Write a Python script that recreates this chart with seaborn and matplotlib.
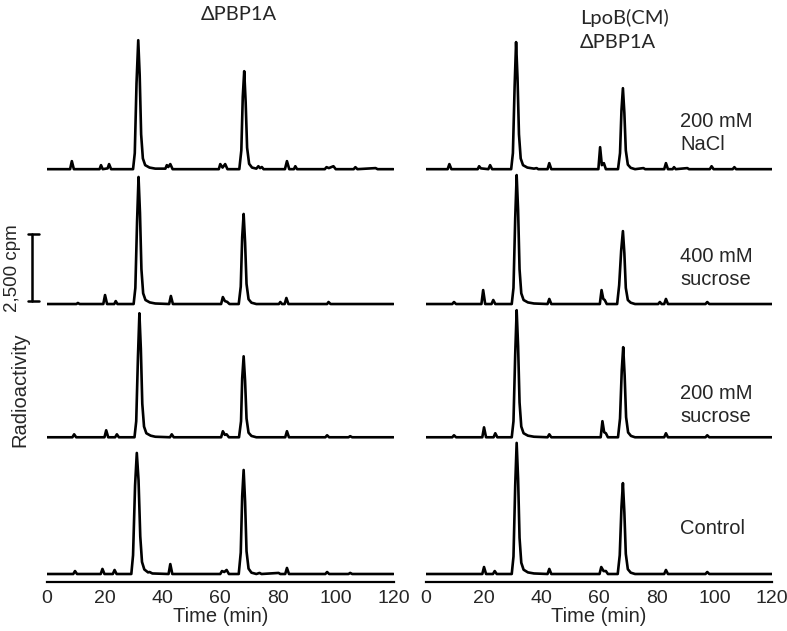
import matplotlib
matplotlib.use("Agg")
import matplotlib.pyplot as plt
import seaborn as sns
import pandas as pd

# ---------------- data (time in min, radioactivity in cpm above each trace baseline) ----------------
TIME_TICKS = [0, 20, 40, 60, 80, 100, 120]
CONDITIONS = ["200 mM\nNaCl", "400 mM\nsucrose", "200 mM\nsucrose", "Control"]
PANEL_TITLES = ["\u0394PBP1A", "LpoB(CM)", "\u0394PBP1A"]

L_NACL = [(0,0),(8.0,0),(8.6,300),(9.3,0),(18.2,0),(18.7,150),(19.3,0),(21.0,30),(21.5,190),(22.2,0),
          (29.8,0),(30.4,600),(31.0,3200),(31.6,4810),(32.1,3500),(32.6,1300),(33.2,400),(34.0,150),(35.5,60),
          (37.5,20),(41.0,20),(41.5,150),(42.0,80),(42.7,190),(43.5,0),(59.5,0),(60.0,190),(60.8,60),(61.7,190),
          (62.5,0),(66.6,0),(67.3,700),(67.8,2700),(68.3,3655),(68.8,2500),(69.3,800),(70.0,200),(71.0,60),
          (72.5,20),(73.2,110),(73.8,40),(74.4,80),(75.0,0),(82.4,0),(83.1,300),(83.9,0),(85.5,0),(86.0,110),
          (86.6,0),(96.2,0),(96.8,75),(97.6,40),(99.2,110),(100.0,0),(106.2,0),(106.8,75),(107.5,0),(113.8,40),
          (114.5,0),(120,0)]
L_S400 = [(0,0),(10.2,0),(10.7,40),(11.3,0),(19.5,0),(20.1,335),(20.8,0),(23.3,0),(23.8,110),(24.4,0),
          (30.0,0),(30.6,600),(31.2,3100),(31.7,4740),(32.2,3400),(32.7,1300),(33.3,400),(34.1,150),(35.6,60),
          (37.5,20),(42.3,0),(42.9,300),(43.6,0),(60.3,0),(60.9,260),(61.6,110),(62.4,80),(63.2,0),(66.4,0),
          (67.1,650),(67.6,2500),(68.1,3360),(68.6,2300),(69.1,750),(69.8,180),(70.8,50),(72.5,0),(80.3,0),
          (80.8,75),(81.4,0),(82.3,0),(82.9,225),(83.6,0),(97.0,0),(97.5,75),(98.2,0),(120,0)]
L_S200 = [(0,0),(8.8,0),(9.4,110),(10.1,0),(19.9,0),(20.5,260),(21.2,0),(23.6,0),(24.2,110),(24.9,0),
          (30.3,0),(30.9,600),(31.5,3000),(32.0,4625),(32.5,3300),(33.0,1250),(33.6,400),(34.4,150),(35.9,60),
          (37.5,20),(42.6,0),(43.2,110),(43.9,0),(60.3,0),(60.9,225),(61.6,90),(62.2,110),(63.0,0),(66.5,0),
          (67.2,600),(67.6,2200),(68.1,3020),(68.6,2100),(69.1,700),(69.8,170),(70.8,50),(72.5,0),(82.5,0),
          (83.1,225),(83.8,0),(96.4,0),(97.0,75),(97.7,0),(104.4,0),(105.0,40),(105.7,0),(120,0)]
L_CTRL = [(0,0),(9.1,0),(9.7,110),(10.4,0),(18.6,0),(19.2,190),(19.9,0),(22.8,0),(23.4,150),(24.1,0),
          (29.2,0),(29.8,700),(30.5,3300),(31.1,4515),(31.7,3500),(32.3,1400),(32.9,450),(33.7,170),(35.0,60),
          (35.5,75),(36.5,20),(42.1,0),(42.7,370),(43.4,0),(60.0,0),(60.6,110),(61.4,75),(62.2,150),(63.0,0),
          (66.4,0),(67.1,800),(67.6,2900),(68.1,3880),(68.6,2700),(69.1,850),(69.8,200),(70.8,50),(72.5,0),
          (73.6,40),(74.3,0),(80.2,40),(80.8,0),(82.5,0),(83.1,225),(83.8,0),(96.4,0),(97.0,75),(97.7,0),
          (104.4,0),(105.0,40),(105.7,0),(120,0)]

R_NACL = [(0,0),(7.6,0),(8.2,190),(8.9,0),(18.0,0),(18.5,110),(19.1,30),(21.7,0),(22.3,150),(23.0,0),
          (29.6,0),(30.2,600),(30.8,3100),(31.3,4740),(31.8,3400),(32.3,1300),(32.9,400),(33.7,150),(35.2,60),
          (37.5,20),(38.4,40),(39.0,0),(42.2,0),(42.8,225),(43.5,0),(59.8,0),(60.4,820),(61.0,150),(61.7,225),
          (62.4,0),(66.6,0),(67.3,600),(67.8,2200),(68.3,3020),(68.8,2100),(69.3,700),(70.0,170),(71.0,50),
          (72.5,0),(75.4,40),(76.0,0),(82.6,0),(83.2,225),(83.9,0),(85.5,0),(86.0,75),(86.6,0),(90.6,40),
          (91.2,0),(98.4,0),(99.0,110),(99.7,0),(106.3,0),(106.9,75),(107.5,0),(120,0)]
R_S400 = [(0,0),(9.2,0),(9.8,75),(10.5,0),(19.3,0),(19.9,520),(20.6,0),(22.8,0),(23.4,150),(24.1,0),
          (29.8,0),(30.4,600),(31.0,3200),(31.5,4810),(32.0,3500),(32.5,1300),(33.1,400),(33.9,150),(35.4,60),
          (37.5,20),(42.2,0),(42.8,190),(43.5,0),(60.3,0),(60.9,520),(61.5,190),(62.0,150),(62.7,0),(66.3,0),
          (67.0,700),(67.7,2000),(68.3,2720),(68.8,1900),(69.3,600),(70.0,150),(71.0,50),(72.5,0),(80.5,0),
          (81.1,75),(81.7,0),(82.6,0),(83.2,190),(83.9,0),(96.9,0),(97.5,75),(98.2,0),(120,0)]
R_S200 = [(0,0),(9.2,0),(9.8,75),(10.5,0),(19.6,0),(20.2,370),(20.9,0),(23.5,0),(24.1,150),(24.8,0),
          (29.8,0),(30.4,600),(31.0,3100),(31.5,4740),(32.0,3400),(32.5,1300),(33.1,400),(33.9,150),(35.4,60),
          (37.5,20),(42.2,0),(42.8,110),(43.5,0),(60.6,0),(61.2,600),(61.8,190),(62.4,150),(63.1,0),(66.6,0),
          (67.3,700),(67.9,2500),(68.4,3360),(68.9,2300),(69.4,750),(70.1,180),(71.1,50),(72.5,0),(82.6,0),
          (83.2,150),(83.9,0),(96.9,0),(97.5,75),(98.2,0),(120,0)]
R_CTRL = [(0,0),(19.6,0),(20.2,260),(20.9,0),(23.3,0),(23.9,110),(24.6,0),(29.8,0),(30.4,650),(31.0,3300),
          (31.5,4890),(32.0,3550),(32.5,1350),(33.1,420),(33.9,160),(35.4,60),(37.5,20),(42.2,0),(42.8,190),
          (43.5,0),(60.2,0),(60.8,260),(61.6,110),(62.4,110),(63.1,0),(66.5,0),(67.2,700),(67.8,2500),
          (68.3,3390),(68.8,2300),(69.3,750),(70.0,180),(71.0,50),(72.5,0),(82.6,0),(83.2,150),(83.9,0),
          (96.9,0),(97.5,75),(98.2,0),(120,0)]

SCALE_BAR_CPM = 2500

# ---------------- layout / style ----------------
OFFSETS = [15100, 10070, 5100, 0]          # vertical stacking of the traces (cpm)
W, H = 787, 631
fig = plt.figure(figsize=(W / 100, H / 100), dpi=100)
sns.set_style("white")
plt.rcParams["font.family"] = ["Liberation Sans", "DejaVu Sans"]

CPM_PER_PX = 37.3
y_bottom_px, y_top_px, base_px = 582, 30, 574
ymin = -(y_bottom_px - base_px) * CPM_PER_PX
ymax = (base_px - y_top_px) * CPM_PER_PX

panels = [[L_NACL, L_S400, L_S200, L_CTRL], [R_NACL, R_S400, R_S200, R_CTRL]]
lefts = [47, 425.7]
axes = []
for pi, traces in enumerate(panels):
    ax = fig.add_axes([lefts[pi] / W, (H - y_bottom_px) / H, 346.5 / W, (y_bottom_px - y_top_px) / H])
    rows = []
    for ti, tr in enumerate(traces):
        for t, v in tr:
            rows.append({"time": t, "cpm": v + OFFSETS[ti], "trace": CONDITIONS[ti]})
    df = pd.DataFrame(rows)
    sns.lineplot(data=df, x="time", y="cpm", units="trace", estimator=None, color="black",
                 linewidth=1.9, ax=ax, legend=False, sort=False)
    ax.set_xlim(0, 120)
    ax.set_ylim(ymin, ymax)
    ax.set_xticks(TIME_TICKS)
    ax.set_xticklabels([str(t) for t in TIME_TICKS], fontsize=14)
    ax.set_yticks([])
    ax.set_ylabel("")
    ax.set_xlabel("Time (min)", fontsize=14.5, labelpad=0)
    for s in ["top", "right", "left"]:
        ax.spines[s].set_visible(False)
    ax.spines["bottom"].set_linewidth(1.6)
    ax.spines["bottom"].set_color("black")
    ax.tick_params(axis="x", direction="out", length=4, width=1.6, color="black", pad=2)
    ax.set_facecolor("none")
    axes.append(ax)

# titles
title_font = ["Lato", "DejaVu Sans"]
fig.text(239 / W, 1 - 15 / H, PANEL_TITLES[0], ha="center", va="center", fontsize=14.5, family=title_font)
fig.text(580 / W, 1 - 18 / H, PANEL_TITLES[1], ha="left", va="center", fontsize=14.5, family=title_font)
fig.text(580 / W, 1 - 43 / H, PANEL_TITLES[2], ha="left", va="center", fontsize=14.5, family=title_font)

# condition labels (right panel)
cond_y = [133, 268, 405, 528]
for lab, yy in zip(CONDITIONS, cond_y):
    fig.text(680 / W, 1 - yy / H, lab, ha="left", va="center", fontsize=14.5, linespacing=1.3)

# y label
fig.text(20 / W, 1 - 390 / H, "Radioactivity", rotation=90, ha="center", va="center", fontsize=14.5)

# scale bar in data units of the left panel
ax = axes[0]
bar_x = -5.2
bar_y0 = OFFSETS[1] + 3 * CPM_PER_PX
bar_y1 = bar_y0 + SCALE_BAR_CPM
ax.plot([bar_x, bar_x], [bar_y0, bar_y1], color="black", lw=1.8, clip_on=False)
for yy in (bar_y0, bar_y1):
    ax.plot([bar_x - 1.5, bar_x + 2.6], [yy, yy], color="black", lw=1.8, clip_on=False)
fig.text(13 / W, 1 - 268 / H, "2,500 cpm", rotation=90, ha="center", va="center", fontsize=13.5)

fig.savefig("out.png", dpi=100)
